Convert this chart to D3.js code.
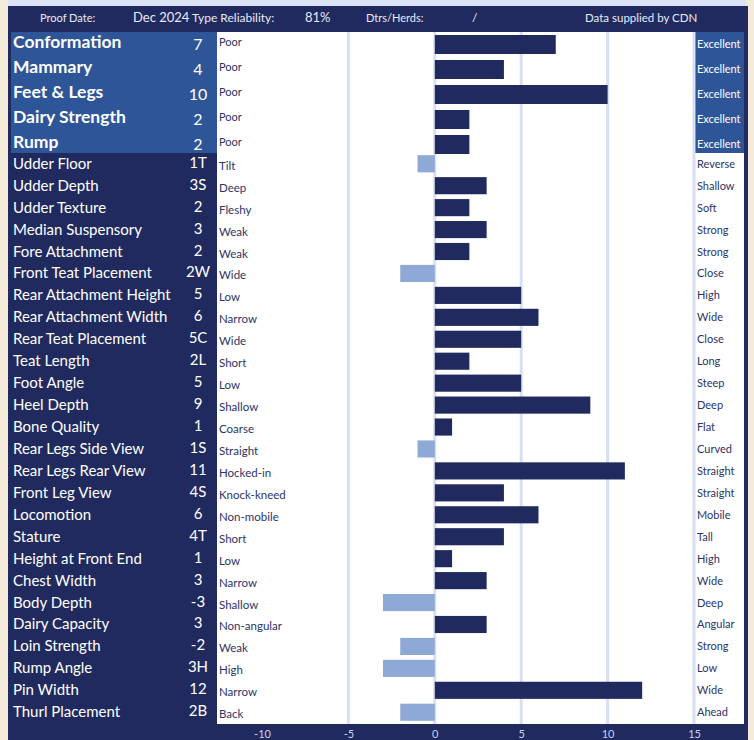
<!DOCTYPE html>
<html>
<head>
<meta charset="utf-8">
<style>
  body { margin: 0; background: #f4ead9; }
  svg { display: block; font-family: Lato, "Open Sans", sans-serif; }
</style>
</head>
<body>
<div id="viz"></div>
<script src="https://d3js.org/d3.v7.min.js"></script>
<script>
  // summary traits (top block)
  const topTraits = ["Conformation", "Mammary", "Feet & Legs", "Dairy Strength", "Rump"];
  const topValues = [7, 4, 10, 2, 2];
  const topLabels = ["7", "4", "10", "2", "2"];

  // linear traits
  const traits = ["Udder Floor", "Udder Depth", "Udder Texture", "Median Suspensory", "Fore Attachment",
    "Front Teat Placement", "Rear Attachment Height", "Rear Attachment Width", "Rear Teat Placement",
    "Teat Length", "Foot Angle", "Heel Depth", "Bone Quality", "Rear Legs Side View", "Rear Legs Rear View",
    "Front Leg View", "Locomotion", "Stature", "Height at Front End", "Chest Width", "Body Depth",
    "Dairy Capacity", "Loin Strength", "Rump Angle", "Pin Width", "Thurl Placement"];
  const values = [-1, 3, 2, 3, 2, -2, 5, 6, 5, 2, 5, 9, 1, -1, 11, 4, 6, 4, 1, 3, -3, 3, -2, -3, 12, -2];
  const labels = ["1T", "3S", "2", "3", "2", "2W", "5", "6", "5C", "2L", "5", "9", "1", "1S", "11",
    "4S", "6", "4T", "1", "3", "-3", "3", "-2", "3H", "12", "2B"];
  const lowEnds = ["Tilt", "Deep", "Fleshy", "Weak", "Weak", "Wide", "Low", "Narrow", "Wide", "Short", "Low",
    "Shallow", "Coarse", "Straight", "Hocked-in", "Knock-kneed", "Non-mobile", "Short", "Low", "Narrow",
    "Shallow", "Non-angular", "Weak", "High", "Narrow", "Back"];
  const highEnds = ["Reverse", "Shallow", "Soft", "Strong", "Strong", "Close", "High", "Wide", "Close", "Long",
    "Steep", "Deep", "Flat", "Curved", "Straight", "Straight", "Mobile", "Tall", "High", "Wide", "Deep",
    "Angular", "Strong", "Low", "Wide", "Ahead"];

  const ticks = [-10, -5, 0, 5, 10, 15];
  const gridTicks = [-5, 0, 5, 10, 15];

  const width = 754, height = 740;
  const navy = "#212a5e", blue = "#2e5597", light = "#8fa9d7", grid = "#d6dff3", ink = "#2b3468";

  const svg = d3.select("#viz").append("svg")
      .attr("width", width)
      .attr("height", height);

  const x = d3.scaleLinear().domain([-10, 15]).range([262, 694]);
  const yTop = d3.scaleBand().domain(topTraits).range([35, 154]).paddingInner(0.24).paddingOuter(0);
  const yBot = d3.scaleBand().domain(traits).range([153, 723]).paddingInner(0.22).paddingOuter(0.1);

  // frame
  svg.append("rect").attr("x", 8).attr("y", 0).attr("width", 738).attr("height", 6).attr("fill", "#dce3f4");
  svg.append("rect").attr("x", 8).attr("y", 6).attr("width", 740).attr("height", 734).attr("fill", navy);
  svg.append("rect").attr("x", 217).attr("y", 32).attr("width", 527).attr("height", 692).attr("fill", "#fff");
  svg.append("rect").attr("x", 11).attr("y", 32).attr("width", 206).attr("height", 121).attr("fill", blue);
  svg.append("rect").attr("x", 694).attr("y", 32).attr("width", 50).attr("height", 121).attr("fill", blue);

  // header
  const header = [
    {t: "Proof Date:", x: 40, s: 11},
    {t: "Dec 2024", x: 133, s: 13},
    {t: "Type Reliability:", x: 192, s: 12},
    {t: "81%", x: 305, s: 13},
    {t: "Dtrs/Herds:", x: 366, s: 11},
    {t: "/", x: 472, s: 12},
    {t: "Data supplied by CDN", x: 585, s: 11.5}
  ];
  svg.selectAll(".hdr").data(header).enter().append("text")
      .attr("class", "hdr")
      .attr("x", d => d.x).attr("y", 22)
      .attr("font-size", d => d.s)
      .attr("fill", "#e6ebf7")
      .text(d => d.t);

  // grid
  svg.selectAll(".grid").data(gridTicks).enter().append("line")
      .attr("x1", d => x(d)).attr("x2", d => x(d))
      .attr("y1", 32).attr("y2", 724)
      .attr("stroke", grid).attr("stroke-width", 3);

  // bars
  function bars(names, vals, y) {
    svg.append("g").selectAll("rect").data(names).enter().append("rect")
        .attr("x", (d, i) => x(Math.min(0, vals[i])))
        .attr("y", d => y(d))
        .attr("width", (d, i) => Math.abs(x(vals[i]) - x(0)))
        .attr("height", y.bandwidth())
        .attr("fill", (d, i) => vals[i] < 0 ? light : navy);
  }
  bars(topTraits, topValues, yTop);
  bars(traits, values, yBot);

  // left labels
  const mid = (y, d) => y(d) + y.bandwidth() / 2;
  svg.append("g").selectAll("text").data(topTraits).enter().append("text")
      .attr("x", 13).attr("y", d => mid(yTop, d) + 3)
      .attr("font-size", 17.5).attr("font-weight", "bold").attr("fill", "#fff")
      .text(d => d);
  svg.append("g").selectAll("text").data(topLabels).enter().append("text")
      .attr("x", 198).attr("y", (d, i) => mid(yTop, topTraits[i]) + 5)
      .attr("text-anchor", "middle").attr("font-size", 16).attr("fill", "#fff")
      .text(d => d);
  svg.append("g").selectAll("text").data(topTraits).enter().append("text")
      .attr("x", 219).attr("y", d => mid(yTop, d) + 1)
      .attr("font-size", 11).attr("fill", ink)
      .text("Poor");
  svg.append("g").selectAll("text").data(topTraits).enter().append("text")
      .attr("x", 697).attr("y", d => mid(yTop, d) + 3)
      .attr("font-size", 11).attr("fill", "#fff")
      .text("Excellent");

  svg.append("g").selectAll("text").data(traits).enter().append("text")
      .attr("x", 13).attr("y", d => mid(yBot, d) + 5)
      .attr("font-size", 15).attr("fill", "#fff")
      .text(d => d);
  svg.append("g").selectAll("text").data(labels).enter().append("text")
      .attr("x", 198).attr("y", (d, i) => mid(yBot, traits[i]) + 4)
      .attr("text-anchor", "middle").attr("font-size", 15).attr("fill", "#fff")
      .text(d => d);
  svg.append("g").selectAll("text").data(lowEnds).enter().append("text")
      .attr("x", 219).attr("y", (d, i) => mid(yBot, traits[i]) + 6)
      .attr("font-size", 11.5).attr("fill", ink)
      .text(d => d);
  svg.append("g").selectAll("text").data(highEnds).enter().append("text")
      .attr("x", 697).attr("y", (d, i) => mid(yBot, traits[i]) + 4)
      .attr("font-size", 11).attr("fill", ink)
      .text(d => d);

  // axis
  const axis = svg.append("g")
      .attr("transform", "translate(0,724)")
      .call(d3.axisBottom(x).tickValues(ticks).tickFormat(d => String(d)).tickSize(0).tickPadding(6));
  axis.select(".domain").remove();
  axis.selectAll("text")
      .attr("fill", "#c9d3ee")
      .attr("font-size", 11)
      .attr("font-family", "Lato, sans-serif");
</script>
</body>
</html>
